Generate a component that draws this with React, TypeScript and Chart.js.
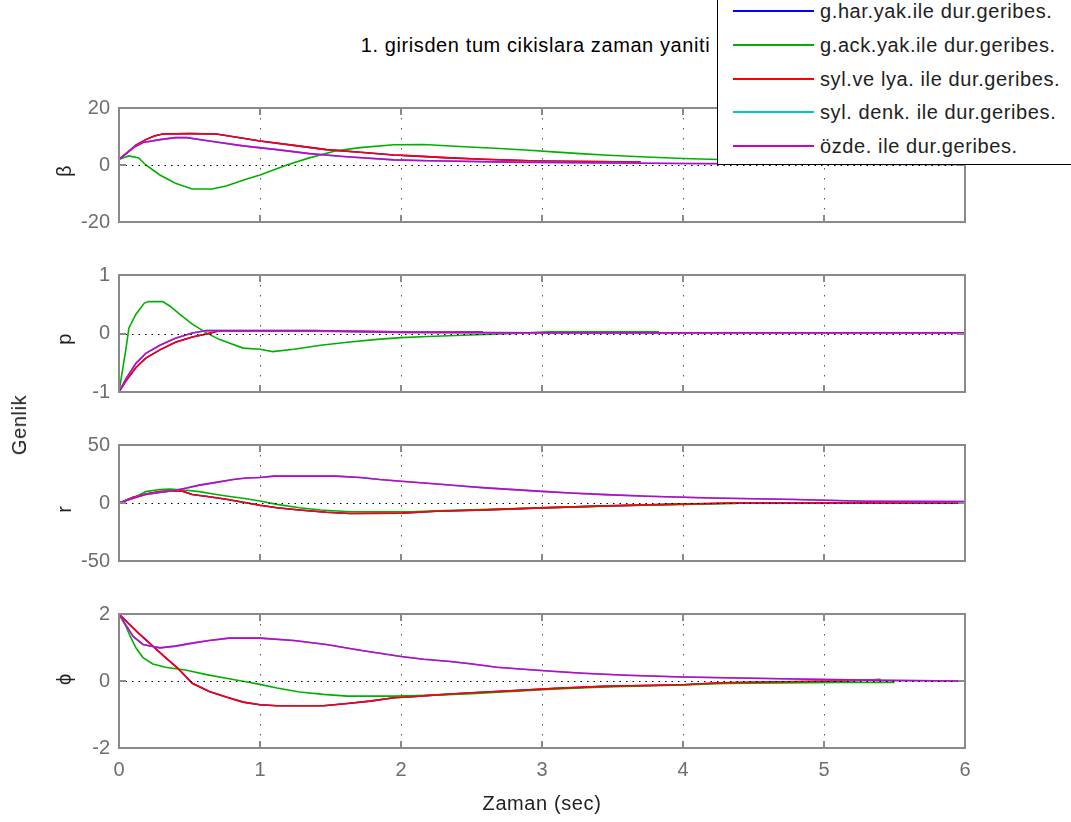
import React, { useEffect, useRef } from 'react';
import { Chart, registerables } from 'chart.js';

Chart.register(...registerables);

const FONT = '"Liberation Sans", Arial, Helvetica, sans-serif';

const titleText = '1. girisden tum cikislara zaman yaniti';
const xTitle = 'Zaman (sec)';
const yTitle = 'Genlik';
const xTicks = [0, 1, 2, 3, 4, 5, 6];

const seriesNames = [
  'g.har.yak.ile dur.geribes.',
  'g.ack.yak.ile dur.geribes.',
  'syl.ve lya. ile dur.geribes.',
  'syl. denk. ile dur.geribes.',
  'özde. ile dur.geribes.',
];
const seriesColors = ['#0000ff', '#00b000', '#ff0000', '#00c8c8', '#cc00cc'];

// ---- beta ----
const tBetaRed = [0, 0.05, 0.12, 0.19, 0.25, 0.31, 0.5, 0.69, 0.88, 1.0, 1.24, 1.47, 1.71, 1.95, 2.08, 2.31, 2.58, 2.97, 3.7];
const betaRed = [2, 4, 7, 8.9, 10.2, 10.9, 11, 10.9, 9.4, 8.4, 6.9, 5.4, 4.5, 3.5, 3.2, 2.6, 2.0, 1.4, 1.0];
const tBetaGreen = [0, 0.07, 0.14, 0.19, 0.29, 0.4, 0.52, 0.66, 0.76, 0.9, 1.0, 1.19, 1.35, 1.54, 1.71, 1.95, 2.16, 2.45, 2.7, 2.91, 3.08, 3.27, 3.47, 3.7, 4.0, 4.5, 5.0, 5.5];
const betaGreen = [2, 3.2, 2.5, 0, -3.5, -6.4, -8.4, -8.4, -7.4, -5, -3.5, 0, 2.5, 5, 6.1, 7.1, 7.2, 6.4, 5.8, 5.2, 4.6, 4.0, 3.4, 2.9, 2.3, 1.6, 1.0, 0.5];
const tBetaMag = [0, 0.05, 0.1, 0.17, 0.29, 0.4, 0.48, 0.64, 0.88, 1.12, 1.35, 1.59, 1.95, 2.2, 2.78, 3.5, 4.0, 5.0, 6.0];
const betaMag = [2, 4, 6, 7.9, 8.9, 9.6, 9.6, 8.4, 6.7, 5.4, 4.0, 3.0, 1.8, 1.5, 1.0, 0.7, 0.5, 0.3, 0.2];

// ---- p ----
const tPRed = [0, 0.05, 0.12, 0.19, 0.29, 0.4, 0.52, 0.62, 0.7, 1.38, 2.0, 2.58];
const pRed = [-1, -0.81, -0.58, -0.42, -0.28, -0.15, -0.06, -0.01, 0.04, 0.04, 0.03, 0.03];
const tPGreen = [0, 0.05, 0.07, 0.12, 0.18, 0.21, 0.31, 0.36, 0.43, 0.52, 0.62, 0.71, 0.88, 1.0, 1.09, 1.24, 1.43, 1.62, 1.83, 2.0, 2.19, 2.44, 2.8, 3.04, 3.83];
const pGreen = [-1, -0.25, 0.09, 0.33, 0.52, 0.545, 0.545, 0.47, 0.33, 0.16, 0.01, -0.1, -0.25, -0.27, -0.31, -0.27, -0.2, -0.15, -0.1, -0.07, -0.05, -0.03, 0.0, 0.03, 0.03];
const tPMag = [0, 0.05, 0.12, 0.19, 0.29, 0.4, 0.52, 0.62, 1.38, 2.0, 3.0, 6.0];
const pMag = [-1, -0.77, -0.51, -0.34, -0.2, -0.08, 0.01, 0.05, 0.05, 0.02, 0.01, 0.01];

// ---- r ----
const tRRed = [0, 0.1, 0.19, 0.29, 0.36, 0.45, 0.52, 0.64, 0.76, 0.88, 1.0, 1.12, 1.28, 1.47, 1.64, 2.0, 2.25, 2.6, 3.0, 3.4, 3.9, 4.38, 6.0];
const rRed = [0, 4.9, 7.8, 9.8, 10.2, 10.2, 7.3, 5.4, 3.2, 0.7, -2, -4.1, -6.1, -8, -9, -8.7, -7.1, -5.9, -4.2, -2.7, -1.2, 0, 0];
const tRGreen = [0, 0.1, 0.19, 0.29, 0.36, 0.48, 0.57, 0.67, 0.76, 0.88, 1.0, 1.12, 1.28, 1.43, 1.64, 2.07, 2.3, 2.7, 3.1, 3.6, 4.0, 4.38];
const rGreen = [0, 4.1, 9.8, 11.7, 12, 11, 9.8, 7.8, 6.1, 4.1, 1.7, -1.2, -4.1, -6.1, -7.6, -7.6, -6.5, -5.2, -3.8, -2.2, -1.2, -0.3];
const tRMag = [0, 0.1, 0.19, 0.29, 0.4, 0.48, 0.57, 0.69, 0.81, 0.9, 1.0, 1.1, 1.54, 1.71, 1.85, 2.0, 2.14, 2.3, 2.45, 2.6, 2.8, 3.0, 3.2, 3.45, 3.75, 4.2, 4.8, 5.3, 6.0];
const rMag = [0, 4.1, 7.3, 9.0, 11, 12.9, 15.4, 17.8, 20.2, 21.5, 22, 23.2, 23.2, 22, 20.2, 18.8, 17.5, 16, 14.5, 13, 11.5, 10, 8.6, 7.2, 5.8, 4.3, 3.0, 1.5, 1.2];

// ---- phi ----
const tPhiRed = [0, 0.05, 0.14, 0.24, 0.33, 0.42, 0.52, 0.64, 0.76, 0.88, 1.0, 1.12, 1.45, 1.62, 1.78, 1.95, 2.08, 2.2, 2.47, 2.84, 3.1, 3.43, 4.0, 4.27, 5.09, 5.4];
const phiRed = [2, 1.79, 1.42, 1.04, 0.7, 0.37, -0.07, -0.31, -0.48, -0.63, -0.71, -0.74, -0.74, -0.67, -0.6, -0.5, -0.47, -0.43, -0.36, -0.28, -0.22, -0.16, -0.11, -0.05, 0.0, 0.04];
const tPhiGreen = [0, 0.05, 0.08, 0.12, 0.17, 0.24, 0.33, 0.48, 0.62, 0.76, 0.9, 1.0, 1.12, 1.28, 1.45, 1.62, 1.95, 2.2, 2.5, 2.85, 3.1, 3.45, 4.0, 4.3, 5.1, 5.5];
const phiGreen = [2, 1.62, 1.33, 0.99, 0.7, 0.51, 0.41, 0.32, 0.19, 0.08, -0.02, -0.1, -0.21, -0.33, -0.4, -0.45, -0.45, -0.43, -0.38, -0.3, -0.24, -0.18, -0.12, -0.07, -0.04, -0.04];
const tPhiMag = [0, 0.05, 0.1, 0.17, 0.29, 0.4, 0.52, 0.64, 0.78, 1.0, 1.24, 1.47, 1.71, 2.0, 2.16, 2.35, 2.52, 2.68, 2.87, 3.07, 3.29, 3.6, 4.0, 4.8, 5.4, 6.0];
const phiMag = [2, 1.66, 1.33, 1.09, 0.99, 1.04, 1.13, 1.21, 1.28, 1.28, 1.21, 1.09, 0.92, 0.73, 0.65, 0.58, 0.5, 0.41, 0.35, 0.29, 0.23, 0.17, 0.12, 0.06, 0.02, 0.0];

type Series = [number[], number[]];
interface Panel { label: string; lim: number; top: number; bottom: number; series: Series[]; }

// series order: blue, green, red, cyan, magenta
const panels: Panel[] = [
  { label: 'β', lim: 20, top: 103, bottom: 238, series: [[tBetaRed, betaRed], [tBetaGreen, betaGreen], [tBetaRed, betaRed], [tBetaMag, betaMag], [tBetaMag, betaMag]] },
  { label: 'p', lim: 1, top: 270, bottom: 408, series: [[tPRed, pRed], [tPGreen, pGreen], [tPRed, pRed], [tPMag, pMag], [tPMag, pMag]] },
  { label: 'r', lim: 50, top: 440, bottom: 577, series: [[tRRed, rRed], [tRGreen, rGreen], [tRRed, rRed], [tRMag, rMag], [tRMag, rMag]] },
  { label: 'ϕ', lim: 2, top: 609, bottom: 748, series: [[tPhiRed, phiRed], [tPhiGreen, phiGreen], [tPhiRed, phiRed], [tPhiMag, phiMag], [tPhiMag, phiMag]] },
];

const PLOT_LEFT = 119;
const PLOT_RIGHT = 965;
const W = 1071;
const H = 822;
const PAD = 16;

const matlabAxes = {
  id: 'matlabAxes',
  beforeDatasetsDraw(chart: any) {
    const { ctx, chartArea, scales } = chart;
    const { top, bottom } = chartArea;
    ctx.save();
    ctx.strokeStyle = '#555555';
    ctx.lineWidth = 1;
    ctx.setLineDash([1.5, 8.5]);
    for (const v of xTicks.slice(1, -1)) {
      const px = Math.round(scales.x.getPixelForValue(v)) + 0.5;
      ctx.beginPath();
      ctx.moveTo(px, top);
      ctx.lineTo(px, bottom);
      ctx.stroke();
    }
    ctx.restore();
  },
  afterDatasetsDraw(chart: any) {
    const { ctx, chartArea, scales } = chart;
    const { left, right, top, bottom } = chartArea;
    ctx.save();
    // zero line
    const zy = Math.round(scales.y.getPixelForValue(0)) + 0.5;
    ctx.strokeStyle = '#000000';
    ctx.lineWidth = 1;
    ctx.setLineDash([1.5, 5]);
    ctx.beginPath();
    ctx.moveTo(left, zy);
    ctx.lineTo(right, zy);
    ctx.stroke();
    ctx.setLineDash([]);
    // border
    ctx.strokeStyle = '#8a8a8a';
    ctx.lineWidth = 2;
    ctx.strokeRect(Math.round(left), Math.round(top), Math.round(right - left), Math.round(bottom - top));
    // tick marks
    ctx.beginPath();
    for (const v of xTicks) {
      const px = Math.round(scales.x.getPixelForValue(v));
      ctx.moveTo(px, bottom);
      ctx.lineTo(px, bottom - 7);
      ctx.moveTo(px, top);
      ctx.lineTo(px, top + 7);
    }
    ctx.moveTo(left, zy - 0.5);
    ctx.lineTo(left + 7, zy - 0.5);
    ctx.moveTo(right, zy - 0.5);
    ctx.lineTo(right - 7, zy - 0.5);
    ctx.stroke();
    ctx.restore();
  },
};

function PanelChart({ panel, index }: { panel: Panel; index: number }) {
  const ref = useRef<HTMLCanvasElement>(null);
  const isLast = index === panels.length - 1;
  const padBottom = isLast ? H - panel.bottom : PAD;
  const height = panel.bottom - panel.top + PAD + padBottom;

  useEffect(() => {
    if (!ref.current) return;
    const datasets = panel.series.map(([t, v], k) => ({
      label: seriesNames[k],
      data: t.map((x, j) => ({ x, y: v[j] })),
      borderColor: seriesColors[k],
      backgroundColor: seriesColors[k],
      borderWidth: 1.6,
      pointRadius: 0,
      fill: false,
      tension: 0,
      order: panel.series.length - 1 - k,
    }));
    const chart = new Chart(ref.current, {
      type: 'line',
      data: { datasets },
      plugins: [matlabAxes],
      options: {
        animation: false,
        responsive: false,
        maintainAspectRatio: false,
        events: [],
        layout: { padding: { left: 0, right: W - PLOT_RIGHT, top: PAD, bottom: isLast ? 0 : PAD } },
        plugins: { legend: { display: false }, tooltip: { enabled: false }, title: { display: false } },
        scales: {
          x: {
            type: 'linear',
            min: 0,
            max: 6,
            display: isLast,
            grid: { display: false, drawTicks: false },
            border: { display: false },
            ticks: { stepSize: 1, font: { family: FONT, size: 20 }, color: '#6e6e6e', padding: 10, maxRotation: 0 },
            afterFit: (s: any) => { s.height = padBottom; },
          },
          y: {
            type: 'linear',
            min: -panel.lim,
            max: panel.lim,
            grid: { display: false, drawTicks: false },
            border: { display: false },
            ticks: { stepSize: panel.lim, font: { family: FONT, size: 20 }, color: '#6e6e6e', padding: 9 },
            afterFit: (s: any) => { s.width = PLOT_LEFT; },
          },
        },
      } as any,
    });
    return () => chart.destroy();
  }, []);

  return (
    <canvas
      ref={ref}
      width={W}
      height={height}
      style={{ position: 'absolute', left: 0, top: panel.top - PAD, width: W, height }}
    />
  );
}

const textBase: React.CSSProperties = {
  position: 'absolute',
  fontFamily: FONT,
  fontSize: 20,
  letterSpacing: '0.6px',
  whiteSpace: 'nowrap',
  lineHeight: '24px',
};

function Rotated({ text, cx, cy }: { text: string; cx: number; cy: number }) {
  return (
    <div style={{ ...textBase, left: cx, top: cy, color: '#222', transform: 'translate(-50%, -50%) rotate(-90deg)' }}>
      {text}
    </div>
  );
}

export default function App() {
  const legendRows = [10, 44, 78, 111, 145];
  return (
    <div style={{ position: 'fixed', left: 0, top: 0, width: W, height: H, background: '#fff', overflow: 'hidden' }}>
      {panels.map((p, i) => (
        <PanelChart key={i} panel={p} index={i} />
      ))}
      {panels.map((p, i) => (
        <Rotated key={'l' + i} text={p.label} cx={64} cy={(p.top + p.bottom) / 2} />
      ))}
      <Rotated text={yTitle} cx={19} cy={425} />
      <div style={{ ...textBase, left: 0, width: 1071, top: 33, textAlign: 'center', color: '#000' }}>{titleText}</div>
      <div style={{ ...textBase, left: PLOT_LEFT, width: PLOT_RIGHT - PLOT_LEFT, top: 791, textAlign: 'center', color: '#222' }}>{xTitle}</div>
      <div style={{ position: 'absolute', left: 717, top: -2, width: 370, height: 167, border: '1px solid #000', background: '#fff', boxSizing: 'border-box' }}>
        {seriesNames.map((n, k) => (
          <React.Fragment key={k}>
            <div style={{ position: 'absolute', left: 15, top: legendRows[k] + 2 - 1, width: 81, height: 2, background: seriesColors[k] }} />
            <div style={{ ...textBase, left: 102, top: legendRows[k] + 2 - 12, color: '#222' }}>{n}</div>
          </React.Fragment>
        ))}
      </div>
    </div>
  );
}
